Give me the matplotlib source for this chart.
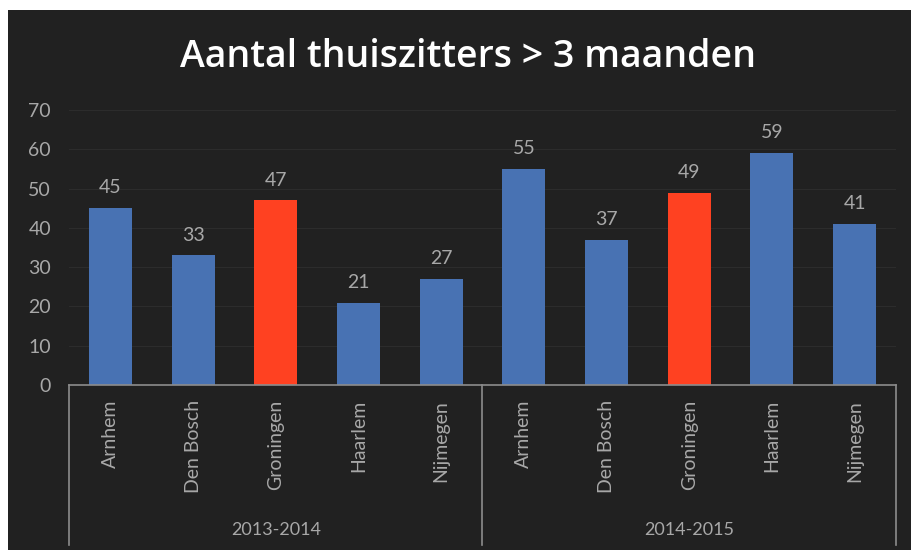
import matplotlib
matplotlib.use('Agg')
import matplotlib.pyplot as plt
from matplotlib.patches import Rectangle
import numpy as np

# Gegevens
perioden = ['2013-2014', '2014-2015']
steden = ['Arnhem', 'Den Bosch', 'Groningen', 'Haarlem', 'Nijmegen']
waarden_2013 = [45, 33, 47, 21, 27]
waarden_2014 = [55, 37, 49, 59, 41]
uitgelicht = 'Groningen'

plt.rcParams['font.family'] = ['Lato', 'DejaVu Sans']

achtergrond = '#212121'
blauw = '#4872b3'
rood = '#ff4121'
tekstkleur = '#a8a8a8'
lijnkleur = '#8c8c8c'

labels = steden + steden
waarden = waarden_2013 + waarden_2014
kleuren = [rood if s == uitgelicht else blauw for s in labels]
x = np.arange(len(labels))

fig = plt.figure(figsize=(9.12, 5.5), dpi=100, facecolor='white')
# donkere achtergrond (witte rand links en boven zoals in de schermafdruk)
fig.patches.append(Rectangle((8 / 912, 0), 1, 1 - 10 / 550, transform=fig.transFigure,
                             facecolor=achtergrond, edgecolor='none', zorder=-10))

ax = fig.add_axes([69 / 912, 1 - 385 / 550, (896 - 69) / 912, 275 / 550])
ax.set_facecolor(achtergrond)
ax.patch.set_alpha(0)

ax.bar(x, waarden, width=0.52, color=kleuren, zorder=3)
for xi, v in zip(x, waarden):
    ax.text(xi, v + 3.0, str(v), ha='center', va='bottom', color=tekstkleur, fontsize=14)

ax.set_xlim(-0.5, len(labels) - 0.5)
ax.set_ylim(0, 70)
ax.set_yticks(range(0, 71, 10))
ax.tick_params(axis='y', length=0, colors=tekstkleur, labelsize=14, pad=13)
ax.set_xticks([])
ax.grid(axis='y', color='#2c2c2c', linewidth=0.8, zorder=0)
for kant in ['top', 'right', 'left', 'bottom']:
    ax.spines[kant].set_visible(False)

# categorie-as met groepen
ax.plot([-0.5, len(labels) - 0.5], [0, 0], color=lijnkleur, lw=1.2, clip_on=False, zorder=4)
onder = -160 / 275 * 70
for grens in [-0.5, 4.5, 9.5]:
    ax.plot([grens, grens], [0, onder], color=lijnkleur, lw=1.2, clip_on=False)

for xi, lab in zip(x, labels):
    ax.text(xi, -15 / 275 * 70, lab, rotation=90, ha='center', va='top',
            color=tekstkleur, fontsize=14)

for i, p in enumerate(perioden):
    ax.text(2 + 5 * i, -145 / 275 * 70, p, ha='center', va='center',
            color=tekstkleur, fontsize=13)

fig.text(468 / 912, 1 - 57 / 550, 'Aantal thuiszitters > 3 maanden', ha='center', va='center',
         color='white', fontsize=27, fontweight='semibold', family=['Open Sans', 'DejaVu Sans'])

fig.savefig('out.png', dpi=100, facecolor=fig.get_facecolor())
